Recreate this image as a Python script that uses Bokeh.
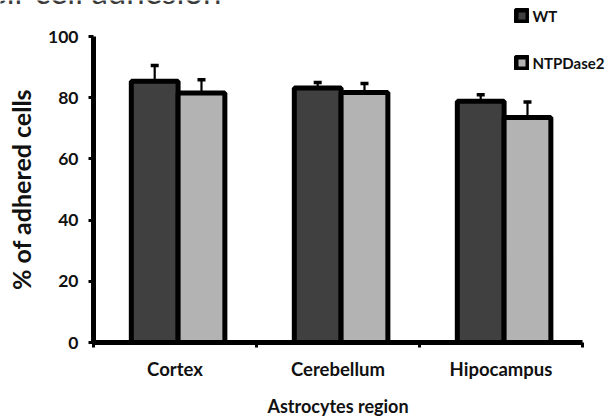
from bokeh.plotting import figure
from bokeh.models import Range1d, FixedTicker, Legend, LegendItem, ColumnDataSource, Label
from bokeh.embed import file_html
from bokeh.resources import INLINE

categories = ["Cortex", "Cerebellum", "Hipocampus"]
wt = [85.4, 83.2, 78.8]
wt_err = [5.1, 1.8, 2.2]
ntp = [81.5, 81.7, 73.5]
ntp_err = [4.4, 2.9, 5.1]
yticks = [0, 20, 40, 60, 80, 100]
series_names = ["WT", "NTPDase2"]
title_text = "Cell-cell adhesion"

FONT = "Lato"
BW = 0.287
SHIFT = 0.019

W, H = 608, 418
X0_PX, Y0_PX = 93, 342       # pixel position of data origin
PX_PER_X, PX_PER_Y = 163.0, 3.06

centers = [i + 0.5 + SHIFT for i in range(len(categories))]
x_wt = [c - BW / 2 for c in centers]
x_ntp = [c + BW / 2 for c in centers]

src_wt = ColumnDataSource(dict(x=x_wt, top=wt, etop=[v + e for v, e in zip(wt, wt_err)]))
src_ntp = ColumnDataSource(dict(x=x_ntp, top=ntp, etop=[v + e for v, e in zip(ntp, ntp_err)]))

p = figure(width=W, height=H, output_backend="svg", toolbar_location=None,
           x_range=Range1d(-X0_PX / PX_PER_X, (W - X0_PX) / PX_PER_X),
           y_range=Range1d(-(H - Y0_PX) / PX_PER_Y, Y0_PX / PX_PER_Y),
           min_border=0)
p.outline_line_color = None
p.xgrid.visible = False
p.ygrid.visible = False
p.background_fill_color = "white"
p.border_fill_color = "white"

r_wt = p.vbar(x="x", top="top", width=BW, bottom=0, source=src_wt,
              fill_color="#404040", line_color="black", line_width=5)
r_ntp = p.vbar(x="x", top="top", width=BW, bottom=0, source=src_ntp,
               fill_color="#b3b3b3", line_color="black", line_width=5)

for src in (src_wt, src_ntp):
    p.segment(x0="x", y0="top", x1="x", y1="etop", source=src, line_color="black", line_width=2.2)
    p.scatter(x="x", y="etop", source=src, marker="dash", size=8, line_color="black", line_width=3.5)

# y axis
ya = p.yaxis[0]
ya.fixed_location = 0
ya.bounds = (0, 100)
ya.ticker = FixedTicker(ticks=yticks, minor_ticks=[])
ya.axis_line_width = 5
ya.axis_line_color = "black"
ya.major_tick_in = 0
ya.major_tick_out = 5
ya.major_tick_line_width = 3
ya.minor_tick_line_color = None
ya.major_label_text_font = FONT
ya.major_label_text_font_style = "bold"
ya.major_label_text_font_size = "17.5px"
ya.major_label_text_color = "#111111"
ya.major_label_standoff = 10
ya.axis_label = "% of adhered cells"
ya.axis_label_text_font = FONT
ya.axis_label_text_font_style = "bold"
ya.axis_label_text_font_size = "25px"
ya.axis_label_text_color = "#111111"
ya.axis_label_standoff = 9

# x axis
xa = p.xaxis[0]
xa.fixed_location = 0
xa.bounds = (0, len(categories))
xa.ticker = FixedTicker(ticks=[i + 0.5 for i in range(len(categories))],
                        minor_ticks=list(range(len(categories) + 1)))
xa.major_label_overrides = {i + 0.5: c for i, c in enumerate(categories)}
xa.axis_line_width = 5
xa.axis_line_color = "black"
xa.major_tick_in = 0
xa.major_tick_out = 5
xa.major_tick_line_color = None
xa.minor_tick_in = 0
xa.minor_tick_out = 5
xa.minor_tick_line_width = 3
xa.minor_tick_line_color = "black"
xa.major_label_text_font = FONT
xa.major_label_text_font_style = "bold"
xa.major_label_text_font_size = "18.5px"
xa.major_label_text_color = "#111111"
xa.major_label_standoff = 10
xa.axis_label = "Astrocytes region"
xa.axis_label_text_font = FONT
xa.axis_label_text_font_style = "bold"
xa.axis_label_text_font_size = "18px"
xa.axis_label_text_color = "#111111"
xa.axis_label_standoff = 12

legend = Legend(items=[LegendItem(label=series_names[0], renderers=[r_wt]),
                       LegendItem(label=series_names[1], renderers=[r_ntp])],
                location=(513.5, H - 10.5 - 61), orientation="vertical",
                glyph_width=15, glyph_height=15, label_height=16, spacing=29,
                padding=0, margin=0, label_standoff=4,
                border_line_color=None, background_fill_alpha=0,
                label_text_font=FONT, label_text_font_style="bold",
                label_text_font_size="15px", label_text_color="#111111")
p.add_layout(legend, "center")

title = Label(x=(-33 - X0_PX) / PX_PER_X, y=(Y0_PX + 10) / PX_PER_Y, text=title_text,
              text_font=FONT, text_font_size="33px", text_color="#3a3a3a",
              text_baseline="alphabetic", text_align="left")
p.add_layout(title)

open("out.html", "w").write(file_html(p, INLINE))
